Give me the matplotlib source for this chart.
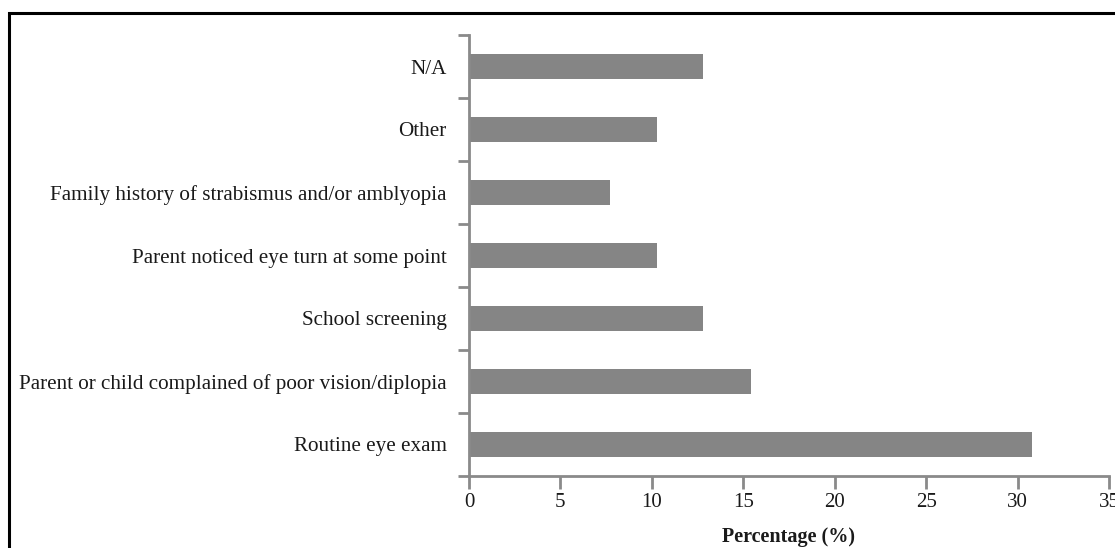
import numpy as np
import matplotlib
matplotlib.use('Agg')
import matplotlib.pyplot as plt
from matplotlib.patches import Rectangle

# Dados (percentual de respostas)
categorias = ['Routine eye exam',
              'Parent or child complained of poor vision/diplopia',
              'School screening',
              'Parent noticed eye turn at some point',
              'Family history of strabismus and/or amblyopia',
              'Other',
              'N/A']
valores = [30.8, 15.4, 12.8, 10.3, 7.7, 10.3, 12.8]
xticks = [0, 5, 10, 15, 20, 25, 30, 35]

plt.rcParams['font.family'] = ['Liberation Serif', 'DejaVu Serif']

fig = plt.figure(figsize=(11.15, 5.48), dpi=100)
ax = fig.add_axes([469 / 1115, 1 - 476 / 548, 640 / 1115, 441 / 548])

y = np.arange(len(categorias))
ax.barh(y, valores, height=0.4, color='#858585')

cinza = '#8a8a8a'
ax.set_xlim(0, 35)
ax.set_ylim(-0.5, len(categorias) - 0.5)
ax.set_xticks(xticks)
ax.set_xticklabels([str(v) for v in xticks])
ax.set_yticks(y)
ax.set_yticklabels(categorias)
ax.set_yticks(np.arange(-0.5, len(categorias)), minor=True)

for s in ['top', 'right']:
    ax.spines[s].set_visible(False)
for s in ['left', 'bottom']:
    ax.spines[s].set_color(cinza)
    ax.spines[s].set_linewidth(2)

ax.tick_params(axis='y', which='major', length=0, pad=16, labelsize=15.2, labelcolor='#1a1a1a')
ax.tick_params(axis='y', which='minor', length=8, width=2, color=cinza, direction='out')
ax.tick_params(axis='x', which='major', length=9, width=2, color=cinza, direction='out',
               pad=3, labelsize=15, labelcolor='#1a1a1a')

ax.set_xlabel('Percentage (%)', fontweight='bold', fontsize=14.5, labelpad=11, color='#1a1a1a')

# moldura externa
fig.patches.append(Rectangle((9 / 1115, -0.2), 1.2, 1.2 - 13 / 548, transform=fig.transFigure,
                             fill=False, edgecolor='black', linewidth=2.2))

fig.savefig('out.png', dpi=100)
